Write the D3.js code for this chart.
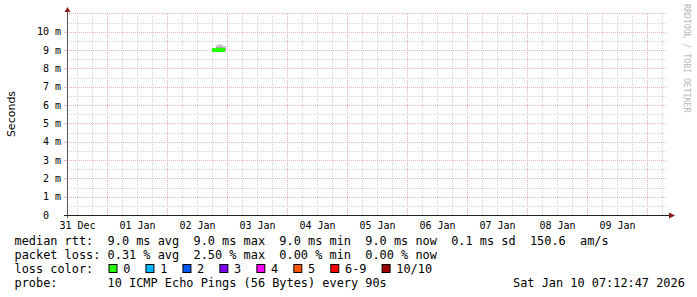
<!DOCTYPE html>
<html>
<head>
<meta charset="utf-8">
<title>smokeping 10 days</title>
<script src="https://cdn.jsdelivr.net/npm/d3@7"></script>
<style>
	body{margin:0;background:#fff}
	text{font-family:"DejaVu Sans Mono",monospace;white-space:pre}
</style>
</head>
<body>
<script>
	var width = 697,
		height = 297;

	// graph window: ten days
	var timeRange = ["2025-12-31T08:00:00Z", "2026-01-10T08:00:00Z"];
	var yMax = 0.011;
	var yTicks = [0, 0.001, 0.002, 0.003, 0.004, 0.005, 0.006, 0.007, 0.008, 0.009, 0.010];

	// hourly steps (end time), values in seconds
	var stepEnd = ["2026-01-02T19:00:00Z", "2026-01-02T20:00:00Z", "2026-01-02T21:00:00Z",
		"2026-01-02T22:00:00Z", "2026-01-02T23:00:00Z"];
	var median = [0.0090, 0.0090, 0.0090, 0.0090, 0.0090];
	var smokeLo = [0.00898, 0.00896, 0.00895, 0.00896, 0.00897];
	var smokeHi = [0.00902, 0.00930, 0.00932, 0.00928, 0.00924];
	var lossIdx = [0, 0, 0, 0, 0];

	var lossLabels = ["0", "1", "2", "3", "4", "5", "6-9", "10/10"];
	var lossColors = ["#26ff00", "#00b8ff", "#0059ff", "#7e00ff", "#ff00ff", "#ff5500", "#ff0000", "#a10000"];

	var legendRtt = "median rtt:  9.0 ms avg  9.0 ms max  9.0 ms min  9.0 ms now  0.1 ms sd  150.6  am/s";
	var legendLoss = "packet loss: 0.31 % avg  2.50 % max  0.00 % min  0.00 % now";
	var legendProbe = "probe:       10 ICMP Echo Pings (56 Bytes) every 90s";
	var stamp = "Sat Jan 10 07:12:47 2026";

	var plot = {left: 67, right: 667, top: 13, bottom: 215};

	var svg = d3.select('body')
				.append('svg')
				.attr('width', width)
				.attr('height', height);

	var x = d3.scaleUtc()
			.domain(timeRange.map(function(d){ return new Date(d); }))
			.range([plot.left, plot.right]);
	var y = d3.scaleLinear()
			.domain([0, yMax])
			.range([plot.bottom, plot.top + 0.4]);

	// grid
	var grid = svg.append('g').attr('shape-rendering', 'crispEdges');
	var minorT = d3.utcHour.every(6).range(x.domain()[0], x.domain()[1]);
	grid.selectAll('.vmin').data(minorT).enter().append('line')
		.attr('x1', function(d){ return Math.round(x(d)) + 0.5; })
		.attr('x2', function(d){ return Math.round(x(d)) + 0.5; })
		.attr('y1', plot.bottom).attr('y2', plot.top)
		.attr('stroke', function(d){ return d.getUTCHours() === 0 ? '#e6b4b4' : '#d4d4d4'; })
		.attr('stroke-dasharray', '1,1');
	var hv = d3.range(1, 23).map(function(i){ return i * 0.0005; });
	grid.selectAll('.hmin').data(hv).enter().append('line')
		.attr('x1', plot.left).attr('x2', plot.right)
		.attr('y1', function(d){ return Math.round(y(d)) + 0.5; })
		.attr('y2', function(d){ return Math.round(y(d)) + 0.5; })
		.attr('stroke', function(d, i){ return i % 2 === 1 ? '#e6b4b4' : '#d4d4d4'; })
		.attr('stroke-dasharray', '1,1');

	// smoke + median
	var rows = stepEnd.map(function(d, i){
		var t = new Date(d);
		return {t0: d3.utcHour.offset(t, -1), t1: t, med: median[i], lo: smokeLo[i], hi: smokeHi[i], loss: lossIdx[i]};
	});
	var marks = svg.append('g').attr('shape-rendering', 'crispEdges');
	marks.selectAll('.smoke').data(rows).enter().append('rect')
		.attr('x', function(d){ return Math.round(x(d.t0)) + 1; })
		.attr('width', function(d){ return Math.round(x(d.t1)) - Math.round(x(d.t0)); })
		.attr('y', function(d){ return Math.round(y(d.hi)); })
		.attr('height', function(d){ return Math.round(y(d.lo)) - Math.round(y(d.hi)); })
		.attr('fill', '#cacaca');
	marks.selectAll('.smoke2').data(rows).enter().append('rect')
		.attr('x', function(d){ return Math.round(x(d.t0)) + 1; })
		.attr('width', function(d){ return Math.round(x(d.t1)) - Math.round(x(d.t0)); })
		.attr('y', function(d){ return Math.round(y((d.hi + d.med) / 2)); })
		.attr('height', function(d){ return Math.round(y(d.lo)) - Math.round(y((d.hi + d.med) / 2)); })
		.attr('fill', '#a4a4a4');
	marks.selectAll('.med').data(rows).enter().append('rect')
		.attr('x', function(d){ return Math.round(x(d.t0)); })
		.attr('width', function(d){ return Math.round(x(d.t1)) - Math.round(x(d.t0)); })
		.attr('y', function(d){ return Math.round(y(d.med)) - 2; })
		.attr('height', 4)
		.attr('fill', function(d){ return lossColors[d.loss]; });

	// axes
	var yAxis = d3.axisLeft(y)
				.tickValues(yTicks)
				.tickSize(3)
				.tickPadding(3)
				.tickFormat(function(d){ return d === 0 ? '0' : Math.round(d * 1000) + ' m'; });
	var ga = svg.append('g').attr('transform', 'translate(' + plot.left + ',0)').call(yAxis);
	ga.select('.domain').remove();
	ga.selectAll('line').attr('stroke', '#e6b4b4');
	ga.selectAll('text').attr('font-size', 10).attr('fill', '#000')
		.filter(function(d){ return d === 0; }).attr('dx', -12);

	var noons = d3.utcDay.range(d3.utcDay.floor(x.domain()[0]), x.domain()[1])
				.map(function(d){ return d3.utcHour.offset(d, 12); })
				.filter(function(d){ return d > x.domain()[0] && d < x.domain()[1]; });
	var xAxis = d3.axisBottom(x)
				.tickValues(noons)
				.tickSize(0)
				.tickPadding(7)
				.tickFormat(d3.utcFormat('%d %b'));
	var gx = svg.append('g').attr('transform', 'translate(0,' + plot.bottom + ')').call(xAxis);
	gx.select('.domain').remove();
	gx.selectAll('text').attr('font-size', 10).attr('fill', '#000');

	// axis lines with arrows
	svg.append('line').attr('x1', plot.left + 0.5).attr('x2', plot.left + 0.5)
		.attr('y1', plot.bottom + 3).attr('y2', 10)
		.attr('stroke', '#555').attr('shape-rendering', 'crispEdges');
	svg.append('line').attr('x1', plot.left - 3).attr('x2', 670)
		.attr('y1', plot.bottom + 0.5).attr('y2', plot.bottom + 0.5)
		.attr('stroke', '#222').attr('shape-rendering', 'crispEdges');
	svg.append('path').attr('d', 'M64.5,12 L67.5,7 L70.5,12 Z').attr('fill', '#8b1a1a');
	svg.append('path').attr('d', 'M669,212.5 L675,215.5 L669,218.5 Z').attr('fill', '#8b1a1a');

	// y title
	svg.append('text')
		.attr('transform', 'translate(15,114) rotate(-90)')
		.attr('text-anchor', 'middle')
		.style('font-family', '"DejaVu Sans", sans-serif')
		.attr('font-size', 11)
		.text('Seconds');

	// watermark
	svg.append('text')
		.attr('transform', 'translate(684,4) rotate(90)')
		.attr('font-size', 8.2)
		.attr('fill', '#b8b8b8')
		.text('RRDTOOL / TOBI OETIKER');

	// legend
	var lx = 14.5, fs = 11.9, cw = fs * 0.602;
	var leg = svg.append('g').attr('font-size', fs).attr('fill', '#000');
	leg.append('text').attr('x', lx).attr('y', 245).text(legendRtt);
	leg.append('text').attr('x', lx).attr('y', 259).text(legendLoss);
	leg.append('text').attr('x', lx).attr('y', 273).text('loss color:');
	leg.append('text').attr('x', lx).attr('y', 287).text(legendProbe);
	leg.append('text').attr('x', 513).attr('y', 287).text(stamp);

	var bx = [];
	var pos = 108.5;
	lossLabels.forEach(function(l){ bx.push(pos); pos += 29.8 + l.length * cw; });
	var items = leg.selectAll('.li').data(lossLabels).enter().append('g')
				.attr('transform', function(d, i){ return 'translate(' + bx[i] + ',0)'; });
	items.append('rect')
		.attr('x', 0.5).attr('y', 264.5).attr('width', 8).attr('height', 8)
		.attr('fill', function(d, i){ return lossColors[i]; })
		.attr('stroke', '#000');
	items.append('text').attr('x', 14.7).attr('y', 273).text(function(d){ return d; });
</script>
</body>
</html>
